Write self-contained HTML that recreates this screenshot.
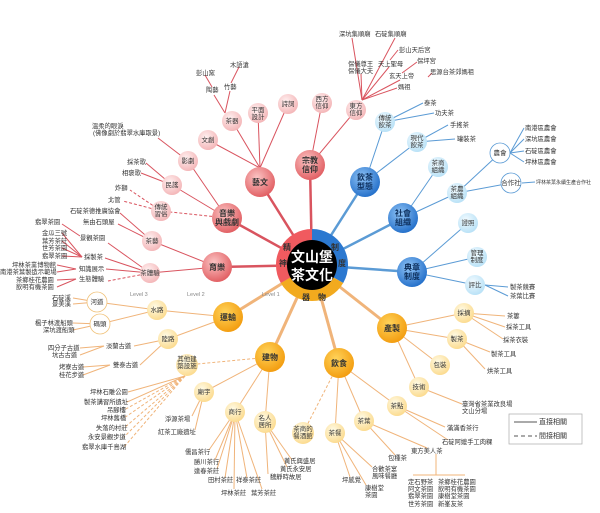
<!DOCTYPE html>
<html><head><meta charset="utf-8"><style>
html,body{margin:0;padding:0;background:#fff}
svg{display:block}
text{font-family:"Liberation Sans","Noto Sans CJK TC",sans-serif;fill:#333}
.s{font-size:6.3px}
.n{font-size:7px;text-anchor:middle}
.b{font-size:9px;text-anchor:middle;font-weight:bold}
.r{stroke:#d9545f;fill:none}
.bl{stroke:#5b9bd5;fill:none}
.o{stroke:#f0b47a;fill:none}
.d{stroke-dasharray:3,2}
</style></head><body>
<svg width="600" height="513" viewBox="0 0 600 513" xmlns="http://www.w3.org/2000/svg">
<defs>
<radialGradient id="r1" cx="40%" cy="35%" r="70%"><stop offset="0" stop-color="#fbc4c4"/><stop offset="1" stop-color="#e05a5e"/></radialGradient>
<radialGradient id="r2" cx="40%" cy="35%" r="70%"><stop offset="0" stop-color="#fff0f0"/><stop offset="1" stop-color="#f3b3b5"/></radialGradient>
<radialGradient id="b1" cx="40%" cy="35%" r="70%"><stop offset="0" stop-color="#8fc3f5"/><stop offset="1" stop-color="#1f6cc8"/></radialGradient>
<radialGradient id="b2" cx="40%" cy="35%" r="70%"><stop offset="0" stop-color="#f2fbff"/><stop offset="1" stop-color="#b6e0f6"/></radialGradient>
<radialGradient id="o1" cx="40%" cy="35%" r="70%"><stop offset="0" stop-color="#ffd35a"/><stop offset="1" stop-color="#f29a0c"/></radialGradient>
<radialGradient id="o2" cx="40%" cy="35%" r="70%"><stop offset="0" stop-color="#fffbe6"/><stop offset="1" stop-color="#fbd98a"/></radialGradient>
</defs>

<!-- RED lines -->
<g class="r">
<line x1="312" y1="265" x2="260" y2="182" stroke-width="2.5"/>
<line x1="312" y1="265" x2="310" y2="165" stroke-width="2.5"/>
<line x1="312" y1="265" x2="227" y2="218" stroke-width="2.5"/>
<line x1="312" y1="265" x2="217" y2="267" stroke-width="2.5"/>
<g stroke-width="1">
<line x1="260" y1="168" x2="288" y2="104"/><line x1="260" y1="168" x2="258" y2="113"/><line x1="260" y1="168" x2="232" y2="121"/><line x1="260" y1="168" x2="208" y2="140"/>
<line x1="225" y1="113" x2="214" y2="95"/><line x1="225" y1="113" x2="230" y2="91"/>
<line x1="212" y1="87" x2="205" y2="75"/><line x1="231" y1="83" x2="239" y2="67"/>
<line x1="227" y1="218" x2="188" y2="161"/><line x1="227" y1="218" x2="172" y2="185"/>
<line x1="188" y1="161" x2="158" y2="138"/>
<line x1="172" y1="185" x2="146" y2="163"/><line x1="172" y1="185" x2="141" y2="173"/>
<line x1="217" y1="267" x2="152" y2="241"/><line x1="217" y1="267" x2="150" y2="273"/>
<line x1="152" y1="241" x2="120" y2="213"/><line x1="152" y1="241" x2="118" y2="224"/>
<line x1="150" y1="273" x2="108" y2="243"/><line x1="150" y1="273" x2="105" y2="258"/><line x1="150" y1="273" x2="106" y2="269"/>
<line x1="62" y1="224" x2="80" y2="236"/>
<line x1="62" y1="233" x2="82" y2="257"/><line x1="62" y1="241" x2="82" y2="257"/><line x1="62" y1="248" x2="82" y2="257"/><line x1="62" y1="256" x2="82" y2="257"/>
<line x1="57" y1="265" x2="76" y2="269"/><line x1="57" y1="272" x2="76" y2="269"/>
<line x1="57" y1="280" x2="76" y2="279"/><line x1="57" y1="287" x2="76" y2="279"/>
<line x1="310" y1="165" x2="322" y2="103"/><line x1="310" y1="165" x2="356" y2="110"/>
<line x1="362" y1="100" x2="352" y2="38"/><line x1="362" y1="100" x2="395" y2="38"/>
<line x1="362" y1="100" x2="361" y2="74"/><line x1="362" y1="100" x2="389" y2="67"/>
<line x1="362" y1="100" x2="400" y2="80"/><line x1="362" y1="100" x2="397" y2="88"/>
<line x1="390" y1="60" x2="398" y2="50"/><line x1="402" y1="73" x2="417" y2="62"/><line x1="428" y1="77" x2="432" y2="73"/>
</g>
<g stroke-width="1" class="d r">
<line x1="227" y1="218" x2="161" y2="211"/>
<line x1="161" y1="211" x2="130" y2="190"/><line x1="161" y1="211" x2="123" y2="201"/>
<line x1="150" y1="273" x2="108" y2="281"/>
</g>
</g>

<!-- BLUE lines -->
<g class="bl">
<line x1="312" y1="265" x2="365" y2="182" stroke-width="2.5"/>
<line x1="312" y1="265" x2="403" y2="218" stroke-width="2.5"/>
<line x1="312" y1="265" x2="412" y2="272" stroke-width="2.5"/>
<g stroke-width="1">
<line x1="365" y1="182" x2="385" y2="122"/><line x1="365" y1="182" x2="417" y2="142"/>
<line x1="385" y1="122" x2="423" y2="103"/><line x1="385" y1="122" x2="434" y2="113"/>
<line x1="417" y1="142" x2="448" y2="125"/><line x1="417" y1="142" x2="455" y2="139"/>
<line x1="403" y1="218" x2="438" y2="167"/><line x1="403" y1="218" x2="457" y2="193"/>
<line x1="457" y1="193" x2="500" y2="153"/><line x1="457" y1="193" x2="511" y2="183"/>
<line x1="510" y1="153" x2="524" y2="128"/><line x1="510" y1="153" x2="524" y2="139"/><line x1="510" y1="153" x2="524" y2="151"/><line x1="510" y1="153" x2="524" y2="162"/>
<line x1="522" y1="183" x2="535" y2="182"/>
<line x1="412" y1="272" x2="468" y2="223"/><line x1="412" y1="272" x2="477" y2="257"/><line x1="412" y1="272" x2="475" y2="285"/>
<line x1="485" y1="285" x2="508" y2="287"/><line x1="485" y1="285" x2="508" y2="296"/>
</g></g>

<!-- ORANGE lines -->
<g class="o">
<line x1="312" y1="265" x2="228" y2="317" stroke-width="3"/>
<line x1="312" y1="265" x2="270" y2="357" stroke-width="3"/>
<line x1="312" y1="265" x2="339" y2="363" stroke-width="3"/>
<line x1="312" y1="265" x2="392" y2="328" stroke-width="3"/>
<g stroke-width="1">
<line x1="228" y1="317" x2="157" y2="310"/><line x1="228" y1="317" x2="168" y2="339"/>
<line x1="157" y1="310" x2="97" y2="302"/><line x1="157" y1="310" x2="100" y2="324"/>
<line x1="97" y1="302" x2="73" y2="298"/><line x1="97" y1="302" x2="73" y2="304"/>
<line x1="100" y1="324" x2="73" y2="323"/><line x1="100" y1="324" x2="73" y2="330"/>
<line x1="168" y1="339" x2="134" y2="346"/><line x1="168" y1="339" x2="140" y2="365"/>
<line x1="104" y1="346" x2="80" y2="348"/><line x1="104" y1="346" x2="80" y2="355"/>
<line x1="110" y1="365" x2="83" y2="367"/><line x1="110" y1="365" x2="83" y2="375"/>
<line x1="270" y1="357" x2="204" y2="392"/><line x1="270" y1="357" x2="235" y2="412"/><line x1="270" y1="357" x2="265" y2="422"/>
<line x1="185" y1="376" x2="128" y2="392"/><line x1="185" y1="376" x2="127" y2="402"/>
<line x1="204" y1="392" x2="192" y2="416"/><line x1="204" y1="392" x2="195" y2="430"/>
<line x1="235" y1="412" x2="209" y2="450"/><line x1="235" y1="412" x2="215" y2="460"/><line x1="235" y1="412" x2="217" y2="469"/><line x1="235" y1="412" x2="225" y2="478"/><line x1="235" y1="412" x2="234" y2="489"/><line x1="235" y1="412" x2="247" y2="478"/><line x1="235" y1="412" x2="262" y2="489"/>
<line x1="265" y1="422" x2="292" y2="460"/><line x1="265" y1="422" x2="287" y2="467"/><line x1="265" y1="422" x2="268" y2="474"/>
<line x1="339" y1="363" x2="335" y2="433"/><line x1="339" y1="363" x2="364" y2="421"/><line x1="339" y1="363" x2="397" y2="406"/>
<line x1="397" y1="406" x2="445" y2="427"/><line x1="397" y1="406" x2="448" y2="440"/>
<line x1="364" y1="421" x2="427" y2="448"/><line x1="364" y1="421" x2="395" y2="455"/>
<line x1="335" y1="433" x2="372" y2="467"/><line x1="335" y1="433" x2="350" y2="477"/><line x1="335" y1="433" x2="366" y2="485"/>
<line x1="436" y1="454" x2="436" y2="475"/><line x1="413" y1="475" x2="465" y2="475"/>
<line x1="392" y1="328" x2="464" y2="313"/><line x1="392" y1="328" x2="457" y2="339"/><line x1="392" y1="328" x2="440" y2="365"/><line x1="392" y1="328" x2="419" y2="387"/>
<line x1="464" y1="313" x2="505" y2="316"/><line x1="464" y1="313" x2="505" y2="327"/><line x1="464" y1="313" x2="503" y2="339"/>
<line x1="457" y1="339" x2="490" y2="352"/><line x1="457" y1="339" x2="485" y2="369"/>
<line x1="419" y1="387" x2="462" y2="404"/>
</g>
<g stroke-width="1" class="o d">
<line x1="270" y1="357" x2="187" y2="365"/>
<line x1="185" y1="376" x2="124" y2="410"/><line x1="185" y1="376" x2="124" y2="418"/><line x1="185" y1="376" x2="124" y2="428"/><line x1="185" y1="376" x2="124" y2="437"/><line x1="185" y1="376" x2="124" y2="447"/>
<line x1="339" y1="363" x2="303" y2="433"/>
</g></g>

<!-- Center -->
<path d="M312 265 L312 229 A36 36 0 0 1 343.2 283 Z" fill="#2b78d0"/>
<path d="M312 265 L343.2 283 A36 36 0 0 1 280.8 283 Z" fill="#f2aa1e"/>
<path d="M312 265 L280.8 283 A36 36 0 0 1 312 229 Z" fill="#f05a5f"/>
<circle cx="312" cy="265" r="25" fill="#000"/>
<text x="312" y="262" text-anchor="middle" style="font-size:14px;fill:#fff;font-weight:bold">文山堡</text>
<text x="312" y="280" text-anchor="middle" style="font-size:14px;fill:#fff;font-weight:bold">茶文化</text>
<g style="font-size:8px;font-weight:bold"><text x="287" y="250" text-anchor="middle">精</text><text x="283" y="266" text-anchor="middle">神</text><text x="335" y="250" text-anchor="middle">制</text><text x="342" y="266" text-anchor="middle">度</text><text x="306" y="300" text-anchor="middle">器</text><text x="322" y="300" text-anchor="middle">物</text></g>

<!-- Level1 nodes -->
<g>
<circle cx="260" cy="182" r="15" fill="url(#r1)"/><circle cx="310" cy="165" r="15" fill="url(#r1)"/><circle cx="227" cy="218" r="15" fill="url(#r1)"/><circle cx="217" cy="267" r="15" fill="url(#r1)"/>
<circle cx="365" cy="182" r="15" fill="url(#b1)"/><circle cx="403" cy="218" r="15" fill="url(#b1)"/><circle cx="412" cy="272" r="15" fill="url(#b1)"/>
<circle cx="228" cy="317" r="15" fill="url(#o1)"/><circle cx="270" cy="357" r="15" fill="url(#o1)"/><circle cx="339" cy="363" r="15" fill="url(#o1)"/><circle cx="392" cy="328" r="15" fill="url(#o1)"/>
</g>
<g class="b" style="font-size:8px">
<text x="260" y="185">藝文</text>
<text x="310" y="163">宗教</text><text x="310" y="172">信仰</text>
<text x="227" y="216">音樂</text><text x="227" y="225">與戲劇</text>
<text x="217" y="270">育樂</text>
<text x="365" y="180" style="fill:#0d2f5c">飲茶</text><text x="365" y="189" style="fill:#0d2f5c">型態</text>
<text x="403" y="216" style="fill:#0d2f5c">社會</text><text x="403" y="225" style="fill:#0d2f5c">組織</text>
<text x="412" y="270" style="fill:#0d2f5c">典章</text><text x="412" y="279" style="fill:#0d2f5c">制度</text>
<text x="228" y="320">運輸</text><text x="270" y="360">建物</text><text x="339" y="366">飲食</text><text x="392" y="331">產製</text>
</g>

<!-- Level2 nodes -->
<g fill="url(#r2)">
<circle cx="288" cy="104" r="10"/><circle cx="258" cy="113" r="10"/><circle cx="232" cy="121" r="10"/><circle cx="208" cy="140" r="10"/><circle cx="188" cy="161" r="10"/><circle cx="172" cy="185" r="10"/><circle cx="161" cy="211" r="10"/><circle cx="152" cy="241" r="10"/><circle cx="150" cy="273" r="10"/><circle cx="322" cy="103" r="10"/><circle cx="356" cy="110" r="10"/>
</g>
<g fill="url(#b2)">
<circle cx="385" cy="122" r="10"/><circle cx="417" cy="142" r="10"/><circle cx="438" cy="167" r="10"/><circle cx="457" cy="193" r="10"/><circle cx="468" cy="223" r="10"/><circle cx="477" cy="257" r="10"/><circle cx="475" cy="285" r="10"/>
</g>
<circle cx="500" cy="153" r="10" fill="#fff" stroke="#5b9bd5" stroke-width="0.8"/>
<circle cx="511" cy="183" r="10" fill="#fff" stroke="#5b9bd5" stroke-width="0.8"/>
<g fill="url(#o2)">
<circle cx="157" cy="310" r="10"/><circle cx="168" cy="339" r="10"/><circle cx="187" cy="365" r="11"/><circle cx="204" cy="392" r="10"/><circle cx="235" cy="412" r="10"/><circle cx="265" cy="422" r="11"/><circle cx="303" cy="433" r="11"/><circle cx="335" cy="433" r="10"/><circle cx="364" cy="421" r="10"/><circle cx="397" cy="406" r="10"/><circle cx="419" cy="387" r="10"/><circle cx="440" cy="365" r="10"/><circle cx="457" cy="339" r="10"/><circle cx="464" cy="313" r="10"/>
</g>
<circle cx="97" cy="302" r="10" fill="#fff" stroke="#f0c27a" stroke-width="0.8"/>
<circle cx="100" cy="324" r="10" fill="#fff" stroke="#f0c27a" stroke-width="0.8"/>

<g class="n" style="font-size:6.5px">
<text x="288" y="106">詩詞</text><text x="258" y="112">平面</text><text x="258" y="119">設計</text><text x="232" y="123">茶器</text><text x="208" y="142">文創</text><text x="188" y="163">影劇</text><text x="172" y="187">民謠</text><text x="161" y="209">傳統</text><text x="161" y="216">習俗</text><text x="152" y="243">茶藝</text><text x="150" y="275">茶體驗</text><text x="322" y="101">西方</text><text x="322" y="108">信仰</text><text x="356" y="108">東方</text><text x="356" y="115">信仰</text>
<text x="385" y="120">傳統</text><text x="385" y="127">飲茶</text><text x="417" y="140">現代</text><text x="417" y="147">飲茶</text><text x="438" y="165">茶商</text><text x="438" y="172">組織</text><text x="457" y="191">茶農</text><text x="457" y="198">組織</text><text x="468" y="225">證照</text><text x="477" y="255">管理</text><text x="477" y="262">制度</text><text x="475" y="287">評比</text><text x="500" y="155">農會</text><text x="511" y="185">合作社</text>
<text x="97" y="304">河道</text><text x="100" y="326">碼頭</text><text x="157" y="312">水路</text><text x="168" y="341">陸路</text><text x="187" y="361">其他建</text><text x="187" y="368">築設施</text><text x="204" y="394">廟宇</text><text x="235" y="414">商行</text><text x="265" y="420">名人</text><text x="265" y="427">居所</text><text x="303" y="431">茶商的</text><text x="303" y="438">餐酒館</text><text x="335" y="435">茶餐</text><text x="364" y="423">茶葉</text><text x="397" y="408">茶點</text><text x="419" y="389">技術</text><text x="440" y="367">包裝</text><text x="457" y="341">製茶</text><text x="464" y="315">採摘</text>
</g>

<!-- Leaf labels -->
<g class="s">
<text x="196" y="75">彭山窯</text><text x="230" y="67">木語滄</text><text x="206" y="92">陶藝</text><text x="224" y="89">竹藝</text>
<text x="92" y="128">溫柔的眼淚</text><text x="93" y="135">(佛像劇於翡翠水庫取景)</text>
<text x="127" y="164">採茶歌</text><text x="122" y="175">相褒歌</text>
<text x="115" y="190">炸獅</text><text x="108" y="202">北管</text>
<text x="70" y="213">石碇茶德推廣協會</text><text x="83" y="224">無由石頭屋</text>
<text x="35" y="224">翡翠茶園</text><text x="80" y="240">景觀茶園</text>
<text x="42" y="235">金瓜三號</text><text x="42" y="243">葉芳茶莊</text><text x="42" y="250">世芳茶園</text><text x="42" y="258">翡翠茶園</text><text x="84" y="259">採製茶</text>
<text x="12" y="267">坪林茶業博物館</text><text x="0" y="274">南港茶葉製造示範場</text><text x="79" y="271">知識展示</text><text x="16" y="282">茶鄉桂花農園</text><text x="79" y="281">生態體驗</text><text x="16" y="289">飲明有機茶園</text>
<text x="339" y="36">深坑集順廟</text><text x="375" y="36">石碇集順廟</text><text x="399" y="52">彭山天后宮</text><text x="417" y="63">保坪宮</text>
<text x="348" y="66">保儀尊王</text><text x="348" y="73">保儀大夫</text><text x="378" y="66">天上聖母</text><text x="389" y="78">玄天上帝</text><text x="430" y="74">思源台茶郊媽祖</text><text x="398" y="89">媽祖</text>
<text x="424" y="105">泰茶</text><text x="435" y="115">功夫茶</text><text x="450" y="127">手搖茶</text><text x="457" y="141">罐裝茶</text>
<text x="525" y="130">南港區農會</text><text x="525" y="141">深坑區農會</text><text x="525" y="153">石碇區農會</text><text x="525" y="164">坪林區農會</text><text x="536" y="184" style="font-size:5px">坪林茶葉永續生產合作社</text>
<text x="510" y="289">製茶競賽</text><text x="510" y="298">茶葉比賽</text>
<text x="52" y="300">石碇溪</text><text x="52" y="306">景美溪</text><text x="35" y="325">楓子林渡船頭</text><text x="43" y="332">深坑渡船頭</text>
<text x="48" y="350">四分子古道</text><text x="52" y="357">坑古古道</text><text x="106" y="348">淡蘭古道</text><text x="113" y="367">雙泰古道</text><text x="59" y="369">烤寮古道</text><text x="59" y="377">桂花步道</text>
<text x="90" y="394">坪林石雕公園</text><text x="84" y="404">製茶講習所遺址</text><text x="107" y="412">吊腳樓</text><text x="101" y="420">坪林舊橋</text><text x="96" y="430">失落的村莊</text><text x="88" y="439">永安景觀步道</text><text x="82" y="449">翡翠水庫千島湖</text>
<text x="165" y="421">淨源茶場</text><text x="158" y="434">紅茶工廠遺址</text>
<text x="185" y="454">儒昌茶行</text><text x="194" y="464">勝川茶行</text><text x="194" y="473">達春茶莊</text><text x="208" y="482">田村茶莊</text><text x="236" y="482">祥泰茶莊</text><text x="221" y="495">坪林茶莊</text><text x="251" y="495">葉芳茶莊</text>
<text x="284" y="463">黃氏興盛居</text><text x="280" y="471">黃氏永安居</text><text x="270" y="479">魏靜時故居</text>
<text x="507" y="318">茶簍</text><text x="506" y="329">採茶工具</text><text x="503" y="342">採茶衣裝</text><text x="491" y="356">製茶工具</text><text x="487" y="373">烘茶工具</text>
<text x="462" y="406">臺灣省茶業改良場</text><text x="462" y="413">文山分場</text>
<text x="447" y="430">滿滿香茶行</text><text x="442" y="444">石碇阿嬤手工肉粿</text>
<text x="411" y="453">東方美人茶</text><text x="388" y="460">包種茶</text>
<text x="372" y="471">合歡茶宴</text><text x="372" y="478">風味餐廳</text><text x="342" y="482">坪感覺</text><text x="365" y="490">康樹堂</text><text x="365" y="497">茶園</text>
<text x="408" y="484">定石野茶</text><text x="408" y="491">阿文茶園</text><text x="408" y="498">翡翠茶園</text><text x="408" y="506">世芳茶園</text>
<text x="438" y="484">茶鄉桂花農園</text><text x="438" y="491">飲明有機茶園</text><text x="438" y="498">康樹堂茶園</text><text x="438" y="506">新峯友茶</text>
</g>
<g style="font-size:5.5px;fill:#888"><text x="130" y="296" style="fill:#888">Level 3</text><text x="187" y="296" style="fill:#888">Level 2</text><text x="262" y="296" style="fill:#888">Level 1</text></g>

<!-- Legend -->
<rect x="509" y="414" width="73" height="30" fill="#fff" stroke="#aaa" stroke-width="0.7"/>
<line x1="514" y1="422" x2="537" y2="422" stroke="#555" stroke-width="1"/>
<line x1="514" y1="436" x2="537" y2="436" stroke="#555" stroke-width="1" stroke-dasharray="4,3"/>
<text x="539" y="424" style="font-size:7px">直接相關</text>
<text x="539" y="438" style="font-size:7px">間接相關</text>
</svg>
</body></html>
